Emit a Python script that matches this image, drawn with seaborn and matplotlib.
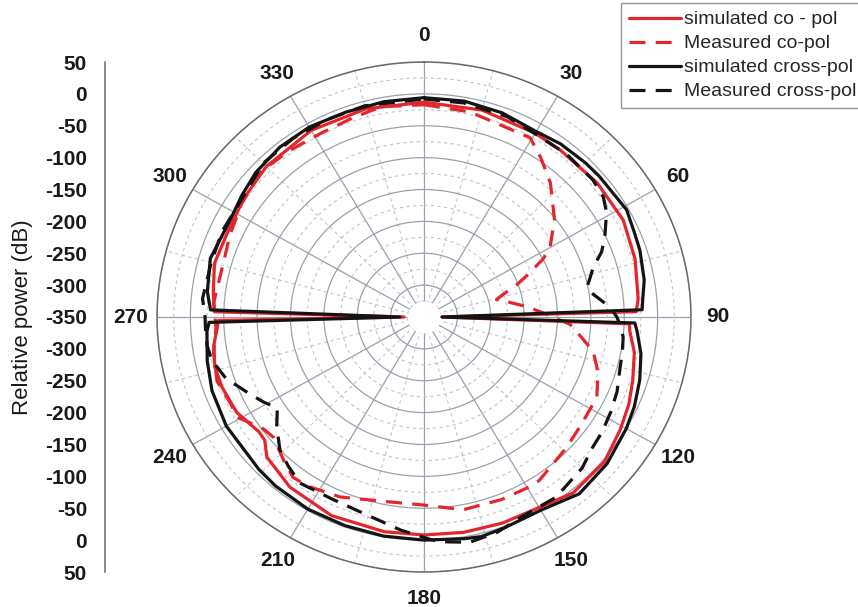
import numpy as np
import pandas as pd
import matplotlib
matplotlib.use("Agg")
import matplotlib.pyplot as plt
import seaborn as sns

# ---------------- data (angle in degrees, value in dB) ----------------
sim_co_ang = [0, 15, 30, 38, 51, 63, 74, 85, 88.5, 90, 92, 94, 100, 107.5, 114, 121, 130, 141, 150,
              160, 170, 180, 190, 204, 217, 227, 231, 234, 242, 250, 256, 262, 267, 269, 270, 271.5,
              277, 285, 295, 305, 315, 330, 345, 360]
sim_co_db = [-13, -14, -17, -18, -16, -15, -21, -28, -32, -323, -42, -41, -30, -22, -14, -7, 3, 5, -5,
             -6, -7, -8, -8, -9, -16, -28, -43, -44, -32, -28, -27, -32, -40, -42, -320, -36,
             -32, -25, -27, -22, -16, -12, -12, -13]

meas_co_ang = [0, 12, 22, 29.5, 35, 42, 52, 60, 63, 67, 70, 74, 76, 78, 80, 84, 88, 93, 97, 102, 107,
               110, 116, 126, 134, 146, 149, 158, 169, 180, 191, 204, 213, 218, 223, 230, 234, 240.7,
               245, 252, 260, 267, 274, 282, 294, 303, 313, 322, 332, 341, 349, 360]
meas_co_db = [-17, -21, -28, -27, -45, -67, -102, -132, -150, -182, -202, -230, -238, -225, -219, -195,
              -171, -131, -115, -91, -79, -73, -62, -60, -54, -41, -40, -41, -42, -55, -55, -41, -33,
              -31, -42, -56, -52, -29, -30, -24, -30, -38, -34, -38, -32, -24, -16, -20, -23, -20,
              -14, -17]

sim_x_ang = [0, 10, 20, 30, 37, 45, 50, 61, 67, 72, 80, 85, 88, 90, 91.7, 94, 100, 107, 114, 120, 130,
             140, 150, 160, 166, 170, 180, 190, 200, 210, 220, 226, 240, 250, 258, 266, 268.5, 270,
             272, 277, 286, 298, 305, 312, 321, 330, 340, 350, 360]
sim_x_db = [-6, -6, -9, -14, -10, -8, -7, -3, -8, -10, -15, -21, -23, -323, -34, -30, -20, -12, -5, 0, 8,
            12, 0, 2, 5, 3, 0, -1, -2, -2, -4, -6, -8, -12, -18, -24, -28, -314,
            -30, -23, -17, -22, -17, -11, -7, -6, -8, -7, -6]

meas_x_ang = [0, 10, 21.6, 30.6, 40, 49.7, 55, 59, 65, 69, 73, 77, 79, 81.5, 84, 86.8, 90, 93, 96, 100,
              106, 112, 118, 124, 129, 135, 145, 155, 162, 169, 175, 178, 186, 196.5, 206, 215.5, 221,
              226, 232, 237, 241, 245, 252, 258, 262, 266, 270, 275, 285, 294, 305, 315, 325, 335,
              345, 360]
meas_x_db = [-8, -9, -12, -18, -17, -18, -22, -31, -51, -65, -85, -96, -101, -96, -85, -71, -61, -55, -50,
             -48, -45, -38, -33, -28, -25, -15, -5, -4, 5, 10, 4, 0, -14, -29, -33, -30, -40,
             -50, -70, -88, -75, -63, -38, -25, -22, -22, -22, -17, -20, -19, -20, -9, -8, -8,
             -7, -8]

series_labels = ["simulated co - pol", "Measured co-pol", "simulated cross-pol", "Measured cross-pol"]
theta_labels = ["0", "30", "60", "90", "120", "150", "180", "210", "240", "270", "300", "330"]
theta_ticks = [0, 30, 60, 90, 120, 150, 180, 210, 240, 270, 300, 330]
r_ticks = [-350, -300, -250, -200, -150, -100, -50, 0, 50]
r_minor = [-325, -275, -225, -175, -125, -75, -25, 25]
r_min, r_max = -350, 50

# ---------------- style ----------------
sns.set_theme(style="white")
plt.rcParams["font.family"] = ["Liberation Sans", "DejaVu Sans"]

W, H = 858, 607
cx, cy, Rx, Ry = 424, 317, 267, 255
fig = plt.figure(figsize=(W / 100, H / 100), dpi=100)
fig.patch.set_facecolor("white")

ax = fig.add_axes([(cx - Rx) / W, (H - cy - Ry) / H, 2 * Rx / W, 2 * Ry / H], projection="polar")
ax.set_aspect("auto")
ax.set_theta_zero_location("N")
ax.set_theta_direction(-1)
ax.set_ylim(r_min, r_max)
ax.set_facecolor("white")

# grid
ax.set_yticks(r_ticks)
ax.set_yticks(r_minor, minor=True)
ax.set_yticklabels([])
ax.set_xticks(np.deg2rad(theta_ticks))
ax.set_xticklabels(theta_labels, fontsize=15, fontweight="bold", color="#1a1a1a")
ax.set_xticks(np.deg2rad(np.arange(15, 360, 30)), minor=True)
ax.tick_params(axis="x", which="major", pad=6)
ax.tick_params(axis="x", which="minor", length=0)
ax.tick_params(axis="y", which="both", length=0)
ax.grid(True, which="major", color="#9aa0ac", linewidth=0.9, linestyle="-")
ax.grid(True, which="minor", color="#c0c4d0", linewidth=0.8, linestyle=(0, (3, 3)))
ax.spines["polar"].set_color("#6a6a6a")
ax.spines["polar"].set_linewidth(1.1)

# central hole
hole_t = np.linspace(0, 2 * np.pi, 200)
ax.fill_between(hole_t, r_min, -325, color="white", zorder=1.5, linewidth=0)

red = "#e4262b"
blk = "#141414"
lw = 2.3
specs = [
    (sim_co_ang, sim_co_db, red, "-", series_labels[0], 3.0),
    (meas_co_ang, meas_co_db, red, (0, (5, 3.2)), series_labels[1], 3.1),
    (sim_x_ang, sim_x_db, blk, "-", series_labels[2], 3.2),
    (meas_x_ang, meas_x_db, blk, (0, (5, 3.2)), series_labels[3], 3.3),
]
for ang, db, col, ls, lab, z in specs:
    df = pd.DataFrame({"theta": np.deg2rad(ang), "r": db})
    sns.lineplot(data=df, x="theta", y="r", ax=ax, sort=False, estimator=None,
                 color=col, linewidth=lw, linestyle=ls, label=lab, zorder=z)
ax.set_xlabel("")
ax.set_ylabel("")
handles, labels = ax.get_legend_handles_labels()
if ax.get_legend() is not None:
    ax.get_legend().remove()

leg = fig.legend(handles, labels, loc="upper left", bbox_to_anchor=(621 / W, 1 - 3 / H),
                 fontsize=14, frameon=True, fancybox=False, edgecolor="#7a7a7a",
                 borderpad=0.4, labelspacing=0.33, handlelength=2.7, handletextpad=0.15,
                 borderaxespad=0)
leg.get_frame().set_linewidth(1.0)
for h in leg.get_lines():
    h.set_linewidth(2.3)

# left radial scale
lax = fig.add_axes([105 / W, (H - 572) / H, 0.0005, 510 / H])
lax.set_ylim(-(r_max - r_min), r_max - r_min)
lax.set_xlim(0, 1)
pos = [t - r_min for t in r_ticks] + [-(t - r_min) for t in r_ticks if t != r_min]
labs = [str(t) for t in r_ticks] + [str(t) for t in r_ticks if t != r_min]
lax.set_yticks(pos)
lax.set_yticklabels(labs, fontsize=15, fontweight="bold", color="#1a1a1a")
lax.set_xticks([])
lax.tick_params(axis="y", length=0, pad=13)
for s in ["top", "right", "bottom"]:
    lax.spines[s].set_visible(False)
lax.spines["left"].set_color("#6a6a6a")
lax.spines["left"].set_linewidth(1.1)
lax.patch.set_alpha(0)

fig.text(23 / W, 1 - 317 / H, "Relative power (dB)", rotation=90, ha="center", va="center",
         fontsize=16, color="#1a1a1a")

fig.savefig("out.png", dpi=100, facecolor="white")
